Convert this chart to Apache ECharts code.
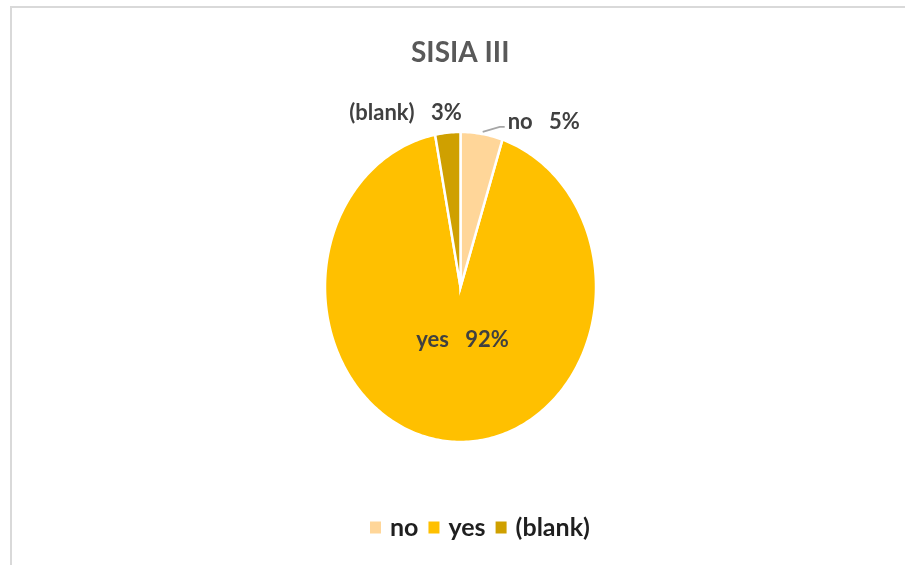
<!DOCTYPE html>
<html>
<head>
<meta charset="utf-8">
<script src="https://cdn.jsdelivr.net/npm/echarts@6/dist/echarts.min.js"></script>
<style>
  html, body { margin: 0; padding: 0; background: #ffffff; }
  #chart { width: 905px; height: 565px; }
</style>
</head>
<body>
<div id="chart"></div>
<script>
// Survey answers for SISIA III
const chartTitle = 'SISIA III';
const categories = ['no', 'yes', '(blank)'];
const values = [5, 92, 3];
const sliceColors = ['#FFD699', '#FFC000', '#CFA000'];

const total = values.reduce((a, b) => a + b, 0);
const FONT = 'Lato, "Open Sans", sans-serif';
const LABEL_COLOR = '#404040';

function pctText(i) {
  return categories[i] + ' \u2002' + Math.round(values[i] / total * 100) + '%';
}

// Each slice is drawn on a unit square mapped onto a taller-than-wide plot,
// so the pie comes out as an upright ellipse. Angles run clockwise from 12 o'clock.
function sliceRenderer(idx) {
  return function (params, api) {
    let before = 0;
    for (let k = 0; k < idx; k++) before += values[k];
    const v = api.value(2);
    const a0 = before / total * Math.PI * 2;
    const a1 = (before + v) / total * Math.PI * 2;
    const steps = Math.max(2, Math.ceil((a1 - a0) / (Math.PI / 180)));
    const pts = [api.coord([0, 0])];
    for (let j = 0; j <= steps; j++) {
      const a = a0 + (a1 - a0) * j / steps;
      pts.push(api.coord([Math.sin(a), Math.cos(a)]));
    }
    const children = [{
      type: 'polygon',
      shape: { points: pts },
      style: { fill: sliceColors[idx], stroke: '#ffffff', lineWidth: 2.5 },
      z2: 1
    }];

    const mid = (a0 + a1) / 2;
    const textStyle = {
      fill: LABEL_COLOR,
      fontFamily: FONT,
      fontWeight: 'bold',
      fontSize: 22,
      text: pctText(idx),
      verticalAlign: 'middle'
    };
    if (idx === 1) {
      // inside label
      const p = api.coord([Math.sin(mid) * 0.34, Math.cos(mid) * 0.34]);
      children.push({
        type: 'text', z2: 5,
        style: Object.assign({}, textStyle, { x: p[0] + 5, y: p[1], align: 'center' })
      });
    } else if (idx === 0) {
      const p = api.coord([Math.sin(mid), Math.cos(mid)]);
      children.push({
        type: 'polyline', z2: 4,
        shape: { points: [[p[0] + 1, p[1] - 2], [p[0] + 18, p[1] - 7], [p[0] + 23, p[1] - 7]] },
        style: { stroke: '#A6A6A6', lineWidth: 1.8, fill: null }
      });
      children.push({
        type: 'text', z2: 5,
        style: Object.assign({}, textStyle, { x: p[0] + 26, y: p[1] - 12, align: 'left' })
      });
    } else {
      const p = api.coord([Math.sin(mid), Math.cos(mid)]);
      children.push({
        type: 'text', z2: 5,
        style: Object.assign({}, textStyle, { x: p[0] + 14, y: p[1] - 20, align: 'right' })
      });
    }
    return { type: 'group', children: children };
  };
}

const chart = echarts.init(document.getElementById('chart'), null, { renderer: 'canvas' });

chart.setOption({
  backgroundColor: '#ffffff',
  animation: false,
  title: {
    text: chartTitle,
    left: 406,
    top: 34,
    textStyle: { fontFamily: FONT, fontWeight: 'bold', fontSize: 28, color: '#595959' }
  },
  legend: {
    data: categories,
    left: 365,
    top: 510,
    icon: 'rect',
    itemWidth: 11,
    itemHeight: 12,
    itemGap: 10,
    textStyle: {
      fontFamily: FONT, fontWeight: 'bold', fontSize: 25, color: '#1F1F1F',
      padding: [0, 0, 0, 4]
    }
  },
  grid: { left: 325, top: 132, width: 271, height: 310 },
  xAxis: { type: 'value', min: -1, max: 1, show: false },
  yAxis: { type: 'value', min: -1, max: 1, show: false },
  graphic: [{
    type: 'rect',
    shape: { x: 11, y: 7, width: 1200, height: 1200 },
    style: { fill: null, stroke: '#D9D9D9', lineWidth: 2 },
    silent: true,
    z: -10
  }],
  series: categories.map((name, i) => ({
    type: 'custom',
    name: name,
    coordinateSystem: 'cartesian2d',
    itemStyle: { color: sliceColors[i] },
    encode: { x: 0, y: 1 },
    data: [{ name: name, value: [0, 0, values[i]] }],
    renderItem: sliceRenderer(i),
    z: i === 1 ? 2 : 3
  }))
});
</script>
</body>
</html>
